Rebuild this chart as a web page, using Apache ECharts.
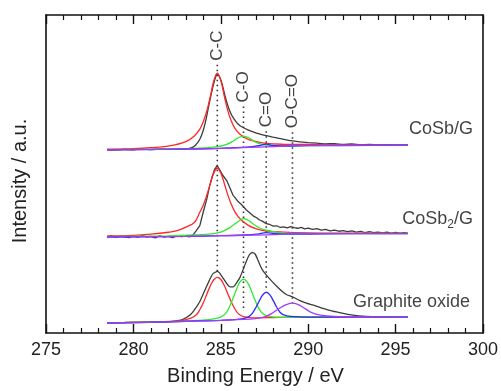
<!DOCTYPE html>
<html>
<head>
<meta charset="utf-8">
<script src="https://cdn.jsdelivr.net/npm/echarts@6/dist/echarts.min.js"></script>
<style>
html, body { margin: 0; padding: 0; background: #fff; }
#chart { width: 501px; height: 391px; }
</style>
</head>
<body>
<div id="chart"></div>
<script>
// axis range (binding energy, eV)
const xMin = 275, xMax = 300, xStep = 5;
// intensity is in arbitrary units, spectra are stacked
const yMin = 0, yMax = 320;

// dotted guides at the fitted peak positions
const bondNames = ['C-C', 'C-O', 'C=O', 'O-C=O'];
const bondE = [284.8, 286.3, 287.6, 289.1];
const guideTop = [270, 228, 203, 202];
const guideBottom = [62, 23, 42, 30];

// sample names next to each spectrum
const sampleNames = ['CoSb/G', 'CoSb{s|2}/G', 'Graphite oxide'];
const sampleE = [299.43, 299.43, 299.26];
const sampleY = [205, 115, 31];

// ---- CoSb/G (top) ----
const cosbRaw = [[278.5,184.5],[279,184.2],[279.5,184.9],[280,184.4],[280.5,185.0],[281,184.6],[281.5,185.1],[282,184.8],[282.5,185.4],[283,185.3],[283.3,186.2],[283.55,189],[283.8,195],[284.0,204],[284.18,217],[284.35,232],[284.5,244],[284.66,255],[284.8,261],[284.95,257],[285.1,249],[285.25,238],[285.4,229],[285.55,222],[285.7,217],[285.9,212],[286.1,208.5],[286.3,206.5],[286.55,204.5],[286.85,202.5],[287.2,200.5],[287.6,198.7],[288.0,197],[288.5,195.3],[289.0,193.6],[289.5,192.4],[290.0,191.6],[290.5,191],[291.0,190.4],[291.5,190.6],[292.0,189.7],[292.5,190.2],[293.0,189.3],[293.5,189.8],[294.0,189.1],[294.5,189.5],[295.0,188.9],[295.4,189.3],[295.7,189.0]];
const cosbCC = [[278.5,185.0],[280,185.6],[281,186.5],[282,188.1],[283,192.6],[283.5,198.6],[283.8,205.2],[284.0,212.6],[284.2,223.4],[284.4,238],[284.6,253.8],[284.8,261.5],[285.0,254],[285.2,238.3],[285.4,223.8],[285.6,213.3],[285.8,206.2],[286.1,199.9],[286.6,194.5],[287.6,190.8],[288.6,189.9],[290,189.8],[292,189.4],[295.7,189.2]];
const cosbCO = [[278.5,184.4],[281,184.9],[283,185.5],[284,186.2],[284.8,187.5],[285.3,189.5],[285.7,193],[286.0,196.5],[286.3,198],[286.6,196.5],[286.9,193],[287.3,190],[287.8,188.6],[288.5,188.3],[290,188.6],[292,188.8],[295.7,189]];
const cosbCdO = [[278.5,184.2],[283,185],[285,185.8],[286.5,187],[287.2,188.5],[287.6,190],[288,188.8],[288.8,188.2],[290,188.5],[295.7,189]];
const cosbOCO = [[278.5,184.3],[283,185],[285,185.7],[287,187],[288.5,188],[289.1,189.2],[289.7,188.8],[291,188.8],[295.7,189]];

// ---- CoSb2/G (middle) ----
const cosb2Raw = [[278.5,96.5],[278.75,97.8],[279.0,96.2],[279.25,97.5],[279.5,96.8],[279.75,95.9],[280.0,97.6],[280.25,96.4],[280.5,98.0],[280.75,96.7],[281.0,97.3],[281.25,95.8],[281.5,97.9],[281.75,96.5],[282.0,97.2],[282.25,96.0],[282.5,98.1],[282.75,96.9],[283.0,97.6],[283.2,96.8],[283.4,98.5],[283.6,103],[283.8,108],[284.0,122],[284.2,135],[284.35,147],[284.5,157],[284.65,165],[284.8,168.3],[284.95,164],[285.1,159],[285.2,157.5],[285.35,153],[285.55,145],[285.7,138.5],[285.85,135.5],[286.0,132],[286.15,129.8],[286.3,127],[286.45,124],[286.6,121.8],[286.75,119.5],[286.9,117.3],[287.05,116],[287.2,114],[287.4,112.3],[287.6,110],[287.8,109.2],[288.0,107.6],[288.2,107.9],[288.4,106.2],[288.6,106.8],[288.8,105.7],[289.0,107],[289.2,106.1],[289.4,105.4],[289.6,106.3],[289.8,104.8],[290.0,105.5],[290.25,104.2],[290.5,105],[290.75,103.5],[291.0,104.3],[291.25,102.8],[291.5,103.6],[291.75,102.4],[292.0,103.1],[292.25,101.9],[292.5,102.8],[292.75,101.5],[293.0,102.3],[293.25,101.1],[293.5,101.9],[293.75,100.9],[294.0,101.6],[294.25,100.7],[294.5,101.4],[294.75,100.5],[295.0,101.2],[295.25,100.4],[295.5,101],[295.7,100.5]];
const cosb2CC = [[278.5,97.6],[280,98.3],[281,99.5],[282,101.4],[282.5,103],[283,106.5],[283.5,111.5],[283.8,121.5],[284.0,128.8],[284.2,138.7],[284.4,150.3],[284.6,161],[284.8,165.8],[285.0,161],[285.2,150.5],[285.4,139],[285.6,129.5],[285.8,122.2],[286.1,115],[286.6,108],[287.1,104.5],[287.6,102.6],[288.6,101.5],[290,100.8],[292,100.5],[295.7,100.3]];
const cosb2CO = [[278.5,97],[282,97.8],[283.5,98.6],[284.5,99.7],[285.0,101.5],[285.4,104.8],[285.7,108.4],[285.9,111],[286.1,113.5],[286.3,115],[286.5,114],[286.7,111.8],[286.9,109.2],[287.2,105.9],[287.6,103.4],[288.3,101.3],[289.3,100.3],[291,100.2],[295.7,100.2]];
const cosb2CdO = [[278.5,96.6],[283,97.2],[285,97.9],[286.5,98.6],[287.1,99.6],[287.6,101],[288.1,99.9],[289,99.4],[291,99.8],[295.7,100]];
const cosb2OCO = [[278.5,96.7],[283,97.3],[285.5,98.1],[288,99],[288.6,99.8],[289.1,100.8],[289.7,100.2],[291,100],[295.7,100.1]];

// ---- Graphite oxide (bottom) ----
const goRaw = [[278.5,10.3],[279.5,10.6],[280.5,11],[281.5,11.4],[282.3,12],[282.8,13.5],[283.24,18],[283.5,23.5],[283.81,32],[284.0,39.5],[284.19,47],[284.4,55],[284.57,60],[284.8,62],[284.95,60],[285.14,55],[285.35,49.5],[285.53,46.5],[285.72,46.5],[285.9,50.5],[286.1,56],[286.3,65],[286.48,73],[286.65,79],[286.8,81],[286.96,79.5],[287.1,74.5],[287.24,68.5],[287.4,63],[287.62,58],[287.9,52.5],[288.2,47],[288.5,42],[288.77,38.5],[289.15,36],[289.53,32.5],[289.9,30],[290.3,28],[290.8,25],[291.4,22],[292.0,19.8],[292.56,18],[293.3,16.8],[294.1,16.2],[295,16],[295.7,16]];
const goCC = [[278.5,10.2],[281,11],[282.5,12],[283.3,15],[283.6,18.3],[283.8,23.4],[284.0,30.4],[284.2,39],[284.4,47.4],[284.6,53.6],[284.8,56],[285.0,53.8],[285.2,47.8],[285.4,39.6],[285.6,31.3],[285.8,24.4],[286.0,19.5],[286.3,16.4],[286.8,15.3],[287.8,15.5],[289,16],[295.7,16]];
const goCO = [[278.5,10.1],[281,11],[283,12],[284,13],[284.5,13.9],[285.0,16],[285.3,20.2],[285.5,26.5],[285.7,34.9],[285.9,44],[286.1,51.4],[286.3,54.1],[286.5,51.5],[286.7,44.6],[286.9,35.5],[287.1,27.4],[287.3,21.3],[287.6,17.5],[288.1,16],[289,15.8],[291,16],[295.7,16]];
const goCdO = [[278.5,9.9],[281,10.8],[283,11.8],[285,12.8],[286.2,14.2],[286.6,16.5],[286.8,19.8],[287.0,25.4],[287.2,32.2],[287.4,38.3],[287.6,41],[287.8,38.6],[288.0,32.6],[288.2,25.9],[288.4,20.6],[288.6,18.2],[289.0,16.7],[290,16],[295.7,16]];
const goOCO = [[278.5,10],[282,11.2],[285,12.8],[287,14.5],[287.5,16.2],[287.9,19.5],[288.3,24.2],[288.7,28.3],[289.07,30],[289.4,28.8],[289.8,24.8],[290.2,20.5],[290.7,18],[291.5,16.6],[293,16.1],[295.7,16]];

const rawColor = '#3c3c3c';
const compColors = ['#ff2626', '#30e830', '#2b2bff', '#a43cf5'];
const font = 'Liberation Sans, Arial, sans-serif';

const chart = echarts.init(document.getElementById('chart'));

function curve(data, color, smooth, z) {
  return {
    type: 'line', data: data, showSymbol: false, smooth: smooth, z: z,
    lineStyle: { color: color, width: 1.3 }, silent: true, animation: false
  };
}

const series = [];
// dotted guides
bondE.forEach(function (e, i) {
  series.push({
    type: 'line', data: [[e, guideTop[i]], [e, guideBottom[i]]], showSymbol: false, z: 1,
    lineStyle: { color: '#333', width: 1.6, type: [1.6, 3.4] }, silent: true, animation: false
  });
});
// spectra
[[cosbRaw, cosbCC, cosbCO, cosbCdO, cosbOCO],
 [cosb2Raw, cosb2CC, cosb2CO, cosb2CdO, cosb2OCO],
 [goRaw, goCC, goCO, goCdO, goOCO]].forEach(function (set, j) {
  // the noisy middle scan is drawn jagged, the others lightly smoothed
  series.push(curve(set[0], rawColor, j === 1 ? false : 0.15, 2));
  for (let k = 1; k < 5; k++) series.push(curve(set[k], compColors[k - 1], 0.4, 3));
});
// bond labels, rotated above each guide
series.push({
  type: 'scatter', symbolSize: 0, z: 5, silent: true, animation: false,
  data: bondE.map(function (e, i) { return { value: [e, guideTop[i]], name: bondNames[i] }; }),
  label: {
    show: true, position: 'top', distance: 4, rotate: 90, align: 'left', verticalAlign: 'middle',
    formatter: '{b}', fontSize: 17, color: '#111', fontFamily: font
  }
});
// sample labels
series.push({
  type: 'scatter', symbolSize: 0, z: 5, silent: true, animation: false,
  data: sampleE.map(function (e, i) { return { value: [e, sampleY[i]], name: sampleNames[i] }; }),
  label: {
    show: true, position: 'left', distance: 0, align: 'right', verticalAlign: 'middle',
    formatter: function (p) { return p.name; },
    fontSize: 18, color: '#111', fontFamily: font,
    rich: { s: { fontSize: 12, fontFamily: font, color: '#111', padding: [12, 0, 0, 0] } }
  }
});

const axisBase = {
  type: 'value', min: xMin, max: xMax, interval: xStep,
  axisLine: { show: true, onZero: false, lineStyle: { color: '#111', width: 1.6 } },
  axisTick: { show: true, inside: true, length: 9, lineStyle: { color: '#111', width: 1.4 } },
  minorTick: { show: true, splitNumber: 5, length: 5, lineStyle: { color: '#111', width: 1.2 } },
  splitLine: { show: false }, minorSplitLine: { show: false }
};

option = {
  backgroundColor: '#fff',
  animation: false,
  grid: { left: 46, right: 18, top: 15, bottom: 56, containLabel: false },
  xAxis: [
    Object.assign({}, axisBase, {
      position: 'bottom',
      axisLabel: { show: true, fontSize: 18, color: '#222', margin: 8, fontFamily: font },
      name: 'Binding Energy / eV', nameLocation: 'middle', nameGap: 33,
      nameTextStyle: { fontSize: 20, color: '#222', fontFamily: font, padding: [0, 18, 0, 0] }
    }),
    Object.assign({}, axisBase, { position: 'top', axisLabel: { show: false } })
  ],
  yAxis: [
    {
      type: 'value', min: yMin, max: yMax, position: 'left',
      axisLine: { show: true, onZero: false, lineStyle: { color: '#111', width: 1.6 } },
      axisTick: { show: false }, axisLabel: { show: false }, splitLine: { show: false },
      name: 'Intensity / a.u.', nameLocation: 'middle', nameGap: 16, nameRotate: 90,
      nameTextStyle: { fontSize: 20, color: '#222', fontFamily: font, padding: [0, 14, 0, 0] }
    },
    {
      type: 'value', min: yMin, max: yMax, position: 'right',
      axisLine: { show: true, onZero: false, lineStyle: { color: '#111', width: 1.6 } },
      axisTick: { show: false }, axisLabel: { show: false }, splitLine: { show: false }
    }
  ],
  series: series
};

option && chart.setOption(option);
</script>
</body>
</html>
